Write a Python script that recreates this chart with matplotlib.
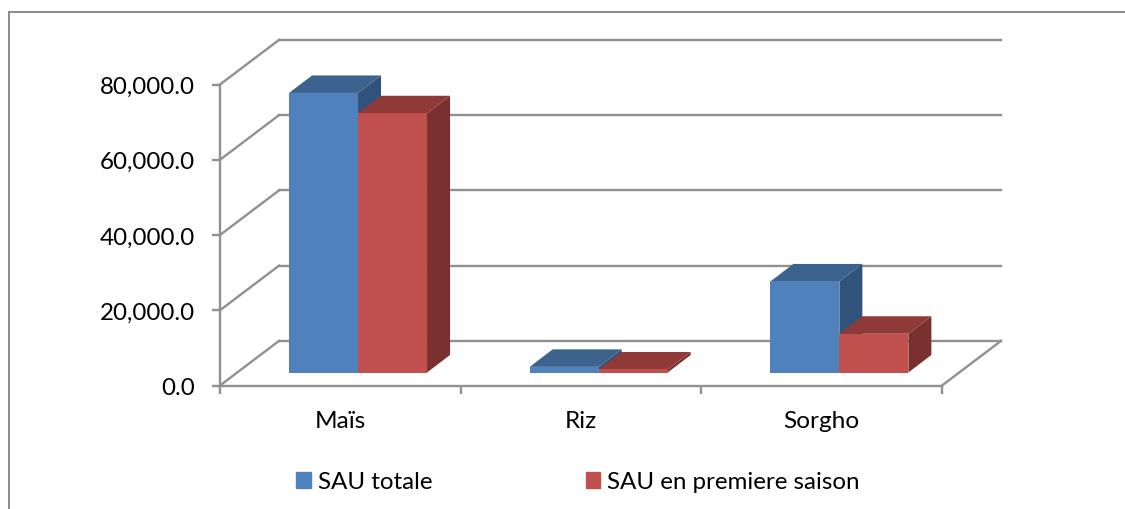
import matplotlib
matplotlib.use('Agg')
import matplotlib.pyplot as plt
from matplotlib.lines import Line2D
from matplotlib.patches import Patch

plt.rcParams['font.family'] = ['Lato', 'DejaVu Sans']

# donnees
categories = ['Maïs', 'Riz', 'Sorgho']
sau_totale = [74300, 1500, 24200]
sau_premiere = [68900, 800, 10300]
y_ticks = [0, 20000, 40000, 60000, 80000]

W, H = 1125, 510
GRID = '#909090'

fig = plt.figure(figsize=(W / 100, H / 100), dpi=100)
ax = fig.add_axes([220 / W, (H - 386.5) / H, 722 / W, 301 / H])
ax.set_xlim(0, 3)
ax.set_ylim(0, 80000)

# profondeur de la perspective, en unites des axes
wall_dx = 59 / 240.67
wall_dy = 44.6 * 80000 / 301
shift_dx = 17.7 / 240.67
shift_dy = 13 * 80000 / 301
depth_dx = 23 / 240.67
depth_dy = 17.5 * 80000 / 301
bar_w = 69 / 240.67


def bar3d(x0, val, front, top, side):
    x0 = x0 + shift_dx
    y0 = shift_dy
    y1 = y0 + val
    x1 = x0 + bar_w
    ax.fill([x1, x1 + depth_dx, x1 + depth_dx, x1],
            [y0, y0 + depth_dy, y1 + depth_dy, y1], color=side, lw=0, clip_on=False, zorder=3)
    ax.fill([x0, x1, x1 + depth_dx, x0 + depth_dx],
            [y1, y1, y1 + depth_dy, y1 + depth_dy], color=top, lw=0, clip_on=False, zorder=3)
    ax.fill([x0, x1, x1, x0], [y0, y0, y1, y1], color=front, lw=0, clip_on=False, zorder=3)


# murs et grille
for v in y_ticks:
    ax.plot([0, wall_dx], [v, v + wall_dy], color=GRID, lw=1.7, clip_on=False, zorder=1)
    ax.plot([wall_dx, 3 + wall_dx], [v + wall_dy, v + wall_dy], color=GRID, lw=1.7, clip_on=False, zorder=1)
ax.plot([3, 3 + wall_dx], [0, wall_dy], color=GRID, lw=1.7, clip_on=False, zorder=1)

for i in range(len(categories)):
    bar3d(i + 0.5 - bar_w, sau_totale[i], '#4f81bd', '#3c628e', '#31527a')
    bar3d(i + 0.5, sau_premiere[i], '#c0504d', '#8f3a38', '#7a302e')

for s in ['top', 'right']:
    ax.spines[s].set_visible(False)
for s in ['left', 'bottom']:
    ax.spines[s].set_color(GRID)
    ax.spines[s].set_linewidth(1.7)

ax.set_yticks(y_ticks)
ax.set_yticklabels(['{:,.1f}'.format(v) for v in y_ticks])
ax.set_xticks([0, 1, 2, 3])
ax.set_xticklabels([])
ax.set_xticks([0.5, 1.5, 2.5], minor=True)
ax.set_xticklabels(categories, minor=True)
ax.tick_params(axis='x', which='major', length=6, width=1.7, color=GRID)
ax.tick_params(axis='x', which='minor', length=0, pad=18, labelsize=17.6)
ax.tick_params(axis='y', length=6, width=1.7, color=GRID, labelsize=17.4, pad=12)

handles = [Patch(color='#4f81bd', label='SAU totale'),
           Patch(color='#c0504d', label='SAU en premiere saison')]
fig.legend(handles=handles, ncol=2, frameon=False, fontsize=17.4,
           loc='center left', bbox_to_anchor=(289 / W, (H - 483) / H),
           handlelength=0.61, handleheight=0.61, handletextpad=0.28,
           columnspacing=6.35, borderpad=0.3, borderaxespad=0)

# cadre du graphique
fig.add_artist(Line2D([8.5 / W, 8.5 / W], [0, (H - 12.5) / H], color='#8a8a8a', lw=1.4))
fig.add_artist(Line2D([8.5 / W, 1], [(H - 12.5) / H, (H - 12.5) / H], color='#8a8a8a', lw=1.4))

fig.savefig('out.png', dpi=100)
